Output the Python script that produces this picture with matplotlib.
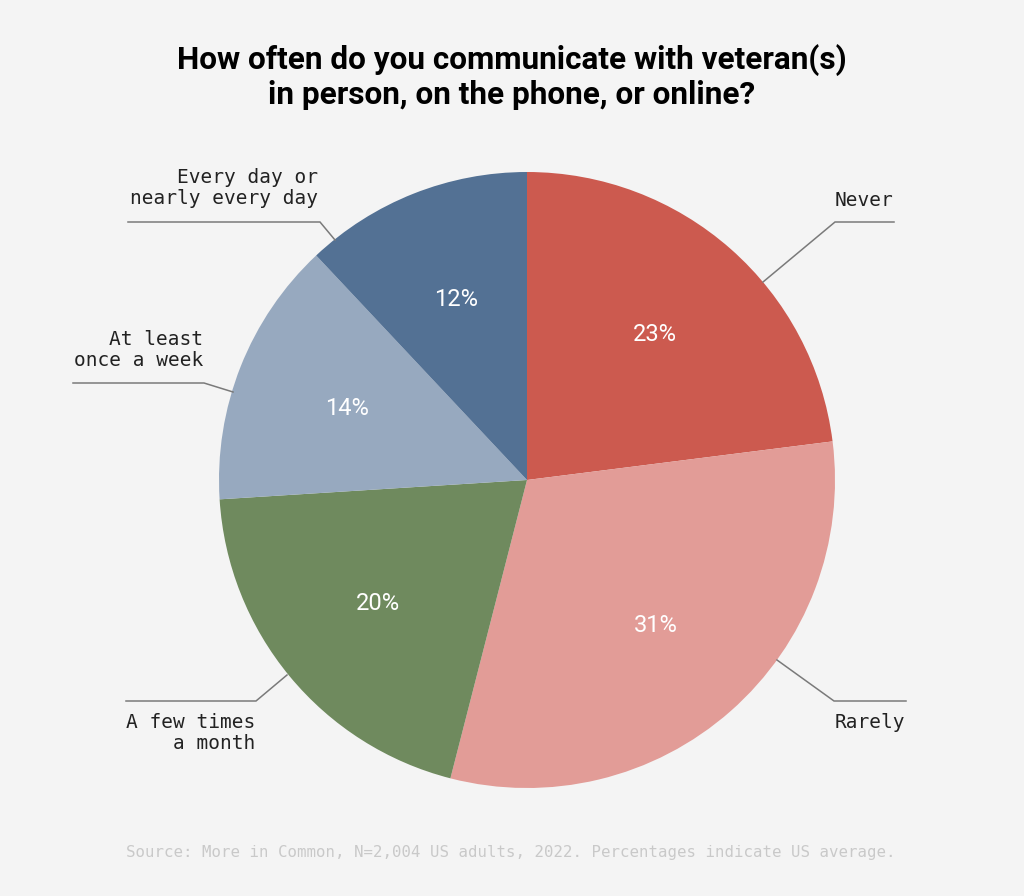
import numpy as np
import matplotlib.pyplot as plt

# data
labels = ["Never", "Rarely", "A few times\na month", "At least\nonce a week", "Every day or\nnearly every day"]
values = [23, 31, 20, 14, 12]
colors = ["#CC5A4F", "#E29C97", "#6F8A5E", "#97A9BF", "#537194"]

bg = "#F4F4F4"
W, H = 1024, 896

fig = plt.figure(figsize=(W / 100, H / 100), dpi=100, facecolor=bg)
ax = fig.add_axes([0, 0, 1, 1])
ax.set_facecolor(bg)

# pie, drawn clockwise from top (y axis flipped, so counterclock=True looks clockwise)
cx, cy, R = 527, 480, 308
wedges, texts = ax.pie(values, colors=colors, startangle=-90, counterclock=True,
                       center=(cx, cy), radius=R, frame=True,
                       wedgeprops=dict(linewidth=0))
ax.set_xlim(0, W)
ax.set_ylim(H, 0)  # pixel coords, y down
ax.axis("off")

cum = np.cumsum([0] + values)
for i, v in enumerate(values):
    mid = (cum[i] + v / 2) / 100 * 2 * np.pi
    r = 0.63 * R
    ax.text(cx + r * np.sin(mid), cy - r * np.cos(mid), f"{v}%", color="white",
            fontsize=17, family="Roboto", ha="center", va="center")

# leader lines (layout, pixel positions)
mono = "DejaVu Sans Mono"
leaders = [
    # (start, elbow, end, text x, text y, ha, multialign)
    ((763, 282), (835, 222), (894, 222), 893, 200, "right", "right"),
    ((777, 660), (834, 701), (906, 701), 905, 722, "right", "right"),
    ((287, 675), (256, 701), (126, 701), 126, 733, "left", "right"),
    ((233, 392), (204, 383), (73, 383), 203, 350, "right", "right"),
    ((335, 240), (320, 222), (128, 222), 318, 188, "right", "right"),
]
for lab, (s, e, t, tx, ty, ha, ma) in zip(labels, leaders):
    ax.plot([s[0], e[0], t[0]], [s[1], e[1], t[1]], color="#7A7A7A", lw=1.1,
            solid_joinstyle="miter")
    ax.text(tx, ty, lab, family=mono, fontsize=14, color="#222222",
            ha=ha, va="center", multialignment=ma, linespacing=1.15)

ax.text(512, 77, "How often do you communicate with veteran(s)\nin person, on the phone, or online?",
        family="Roboto", fontweight="bold", fontsize=22.7,
        ha="center", va="center", linespacing=1.2, color="black")

ax.text(511, 852, "Source: More in Common, N=2,004 US adults, 2022. Percentages indicate US average.",
        family=mono, fontsize=11.3, color="#C9C9C9", ha="center", va="center")

fig.savefig("out.png", dpi=100, facecolor=bg)
